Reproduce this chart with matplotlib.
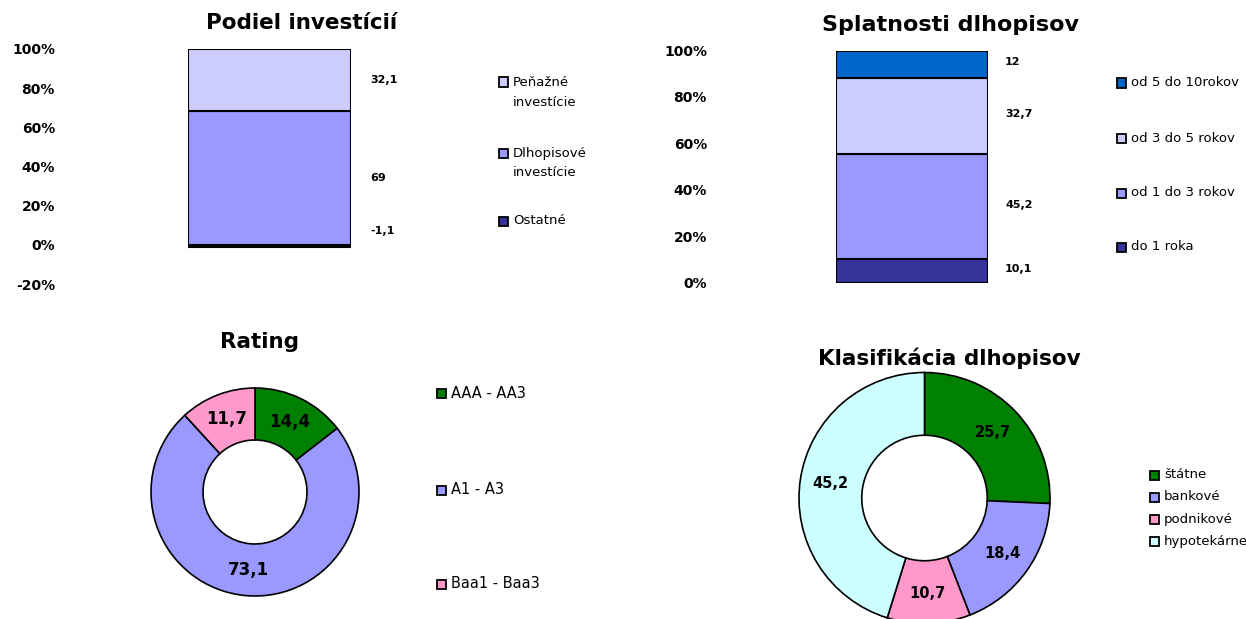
import matplotlib
matplotlib.use("Agg")
import matplotlib.pyplot as plt
from matplotlib.patches import Rectangle

# ---------------- data ----------------
inv_labels = ["Peňažné\ninvestície", "Dlhopisové\ninvestície", "Ostatné"]
inv_values = [32.1, 69.0, -1.1]
inv_colors = ["#CCCCFF", "#9999FF", "#333399"]

spl_labels = ["od 5 do 10rokov", "od 3 do 5 rokov", "od 1 do 3 rokov", "do 1 roka"]
spl_values = [12.0, 32.7, 45.2, 10.1]
spl_colors = ["#0066CC", "#CCCCFF", "#9999FF", "#333399"]

rat_labels = ["AAA - AA3", "A1 - A3", "Baa1 - Baa3"]
rat_values = [14.4, 73.1, 11.7]
rat_colors = ["#008000", "#9999FF", "#FF99CC"]

kla_labels = ["štátne", "bankové", "podnikové", "hypotekárne"]
kla_values = [25.7, 18.4, 10.7, 45.2]
kla_colors = ["#008000", "#9999FF", "#FF99CC", "#CCFFFF"]

pct_ticks = [-20, 0, 20, 40, 60, 80, 100]
pct_ticks2 = [0, 20, 40, 60, 80, 100]

# ---------------- layout helpers ----------------
W, H, DPI = 1246, 619, 100
fig = plt.figure(figsize=(W / DPI, H / DPI), dpi=DPI)
fig.patch.set_facecolor("white")
plt.rcParams["font.family"] = ["DejaVu Sans"]


def fx(x):
    return x / W


def fy(y):
    return 1 - y / H


def px_axes(left, top, right, bottom):
    return fig.add_axes([fx(left), fy(bottom), (right - left) / W, (bottom - top) / H])


def fmt(v):
    s = f"{v:.1f}"
    if s.endswith(".0"):
        s = s[:-2]
    return s.replace(".", ",")


def draw_legend(x_sq, ys, labels, colors, fontsize=9.5, line_gap=20):
    for y, lab, col in zip(ys, labels, colors):
        fig.patches.append(Rectangle((fx(x_sq), fy(y + 4.5)), 9 / W, 9 / H,
                                     transform=fig.transFigure, facecolor=col,
                                     edgecolor="black", linewidth=1.3))
        for i, line in enumerate(lab.split("\n")):
            fig.text(fx(x_sq + 14), fy(y + i * line_gap), line, fontsize=fontsize,
                     ha="left", va="center", color="black")


def style_bar_axes(ax, pad_px):
    for s in ax.spines.values():
        s.set_visible(False)
    ax.set_xticks([])
    ax.tick_params(axis="y", length=0, pad=pad_px * 72 / DPI, labelsize=10)
    for t in ax.get_yticklabels():
        t.set_fontweight("bold")
    ax.patch.set_alpha(0)


# ---------------- chart 1: Podiel investícií ----------------
ax1 = px_axes(188, 49, 351, 49 + 120 * 1.96)
ax1.set_xlim(-0.5, 0.5)
ax1.set_ylim(-20, 100)
pos_total = sum(v for v in inv_values if v > 0)
pos_base, neg_base = 0.0, 0.0
for lab, v, c in reversed(list(zip(inv_labels, inv_values, inv_colors))):
    p = v / pos_total * 100
    if p >= 0:
        b = pos_base
        pos_base += p
        ymid, dy = b + p / 2, 0
    else:
        b = neg_base
        neg_base += p
        ymid, dy = b + p / 2, 15
    ax1.bar(0, p, bottom=b, width=1.0, color=c, edgecolor="black", linewidth=1.5)
    ax1.annotate(fmt(v), xy=(0.5, ymid), xytext=(19 * 0.72, dy * 0.72),
                 textcoords="offset points", ha="left", va="center",
                 fontsize=8, fontweight="bold", annotation_clip=False)
ax1.set_yticks(pct_ticks)
ax1.set_yticklabels([f"{t}%" for t in pct_ticks])
style_bar_axes(ax1, 133)
fig.text(fx(302), fy(23), "Podiel investícií", fontsize=15.5, fontweight="bold",
         ha="center", va="center")
draw_legend(499, [82, 153, 221], inv_labels, inv_colors)

# ---------------- chart 2: Splatnosti dlhopisov ----------------
ax2 = px_axes(836, 50.5, 988, 282.5)
ax2.set_xlim(-0.5, 0.5)
ax2.set_ylim(0, 100)
tot2 = sum(spl_values)
base = 0.0
for lab, v, c in reversed(list(zip(spl_labels, spl_values, spl_colors))):
    p = v / tot2 * 100
    ax2.bar(0, p, bottom=base, width=1.0, color=c, edgecolor="black", linewidth=1.5)
    ax2.annotate(fmt(v), xy=(0.5, base + p / 2), xytext=(17 * 0.72, 2 * 0.72),
                 textcoords="offset points", ha="left", va="center",
                 fontsize=8, fontweight="bold", annotation_clip=False)
    base += p
ax2.set_yticks(pct_ticks2)
ax2.set_yticklabels([f"{t}%" for t in pct_ticks2])
style_bar_axes(ax2, 129)
fig.text(fx(951), fy(25), "Splatnosti dlhopisov", fontsize=16, fontweight="bold",
         ha="center", va="center")
draw_legend(1117, [83, 138, 193, 247], spl_labels, spl_colors)


# ---------------- donuts ----------------
def donut(cx, cy, r, values, colors, fontsize, pctdist):
    k = 1.15
    half = k * r
    ax = px_axes(cx - half, cy - half, cx + half, cy + half)
    total = sum(values)
    ax.pie(values, colors=colors, startangle=90, counterclock=False, radius=1,
           wedgeprops=dict(width=0.5, edgecolor="black", linewidth=1.2),
           autopct=lambda p: fmt(p * total / 100), pctdistance=pctdist,
           textprops=dict(fontsize=fontsize, fontweight="bold", color="black"))
    ax.set_xlim(-k, k)
    ax.set_ylim(-k, k)
    ax.set_aspect("equal", adjustable="box")
    ax.axis("off")
    return ax


donut(255, 492, 104, rat_values, rat_colors, 12, 0.75)
fig.text(fx(260), fy(342), "Rating", fontsize=15.5, fontweight="bold",
         ha="center", va="center")
draw_legend(437, [393, 490, 584], rat_labels, rat_colors, fontsize=10.5)

donut(924.5, 498, 125.5, kla_values, kla_colors, 10.5, 0.76)
fig.text(fx(949), fy(358), "Klasifikácia dlhopisov", fontsize=15.5, fontweight="bold",
         ha="center", va="center")
draw_legend(1150, [475, 497, 519, 541], kla_labels, kla_colors)

fig.savefig("out.png", dpi=DPI, facecolor="white")
